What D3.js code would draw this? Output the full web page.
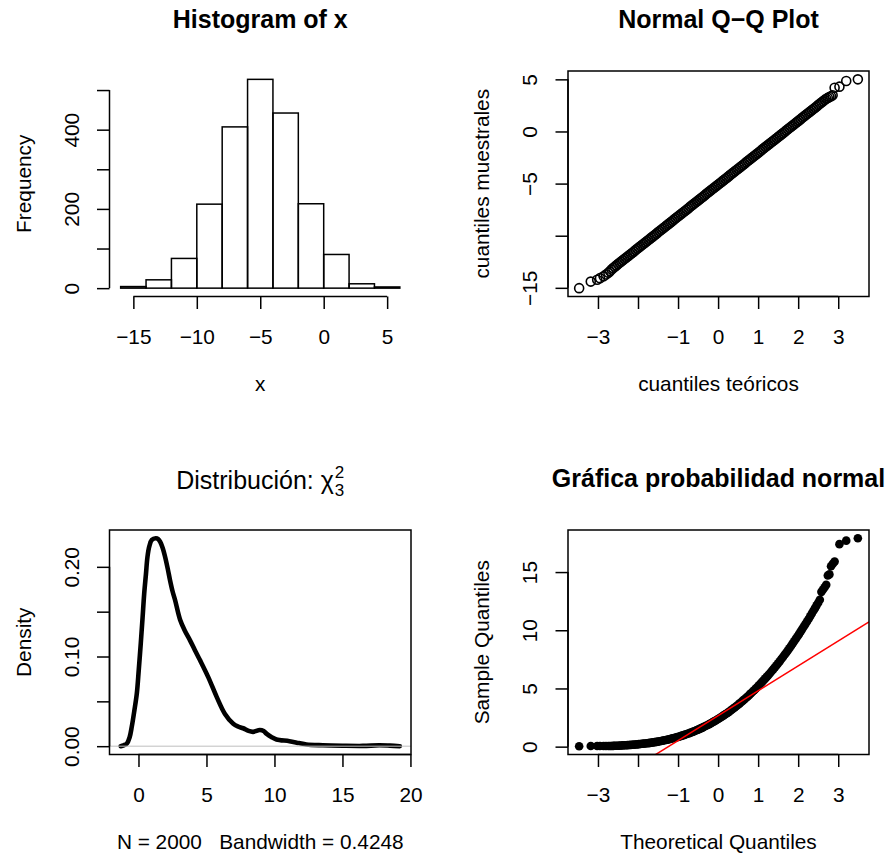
<!DOCTYPE html>
<html>
<head>
<meta charset="utf-8">
<script src="https://cdn.jsdelivr.net/npm/d3@7"></script>
<style>
  body { margin: 0; background: #fff; }
  text { font-family: "Liberation Sans", Arial, Helvetica, sans-serif; }
</style>
</head>
<body>
<div id="chart"></div>
<script>
// ---- data ----
var histBreaks = [-16, -14, -12, -10, -8, -6, -4, -2, 0, 2, 4, 6];
var histCounts = [4, 21, 75, 212, 407, 527, 442, 213, 85, 11, 3];
var histXTicks = [-15, -10, -5, 0, 5];
var histYTicks = [0, 100, 200, 300, 400, 500];
var histYLabels = [0, 200, 400];

// theoretical quantiles (same n = 2000 for both Q-Q plots)
var qqTheo = [-3.47, -3.18, -3.02, -2.95, -2.86, -2.80, -2.74, -2.70, -2.66,
  -2.62,-2.58,-2.54,-2.50,-2.46,-2.42,-2.38,-2.34,-2.30,-2.26,
  -2.22,-2.18,-2.14,-2.10,-2.06,-2.02,-1.98,-1.94,-1.90,-1.86,
  -1.82,-1.78,-1.74,-1.70,-1.66,-1.62,-1.58,-1.54,-1.50,-1.46,
  -1.42,-1.38,-1.34,-1.30,-1.26,-1.22,-1.18,-1.14,-1.10,-1.06,
  -1.02,-0.98,-0.94,-0.90,-0.86,-0.82,-0.78,-0.74,-0.70,-0.66,
  -0.62,-0.58,-0.54,-0.50,-0.46,-0.42,-0.38,-0.34,-0.30,-0.26,
  -0.22,-0.18,-0.14,-0.10,-0.06,-0.02,0.02,0.06,0.10,0.14,
  0.18,0.22,0.26,0.30,0.34,0.38,0.42,0.46,0.50,0.54,
  0.58,0.62,0.66,0.70,0.74,0.78,0.82,0.86,0.90,0.94,
  0.98,1.02,1.06,1.10,1.14,1.18,1.22,1.26,1.30,1.34,
  1.38,1.42,1.46,1.50,1.54,1.58,1.62,1.66,1.70,1.74,
  1.78,1.82,1.86,1.90,1.94,1.98,2.02,2.06,2.10,2.14,
  2.18,2.22,2.26,2.30,2.34,2.38,2.42,2.46,2.50,2.54,
  2.58,2.62,2.66,2.70,
  2.74, 2.78, 2.82, 2.86, 2.91, 3.03, 3.20, 3.49];

// sorted sample, normal data (top right)
var qqNormSample = [-15.03, -14.40, -14.23, -14.07, -13.90, -13.72, -13.55, -13.42, -13.25,
  -13.09,-12.97,-12.85,-12.72,-12.60,-12.48,-12.36,-12.24,-12.12,-11.99,
  -11.87,-11.75,-11.63,-11.51,-11.38,-11.26,-11.14,-11.02,-10.89,-10.77,
  -10.65,-10.53,-10.41,-10.28,-10.16,-10.04,-9.92,-9.80,-9.67,-9.55,
  -9.43,-9.31,-9.19,-9.06,-8.94,-8.82,-8.70,-8.58,-8.45,-8.33,
  -8.21,-8.09,-7.97,-7.84,-7.72,-7.60,-7.48,-7.36,-7.23,-7.11,
  -6.99,-6.87,-6.75,-6.62,-6.50,-6.38,-6.26,-6.14,-6.01,-5.89,
  -5.77,-5.65,-5.53,-5.40,-5.28,-5.16,-5.04,-4.92,-4.79,-4.67,
  -4.55,-4.43,-4.31,-4.18,-4.06,-3.94,-3.82,-3.70,-3.57,-3.45,
  -3.33,-3.21,-3.09,-2.96,-2.84,-2.72,-2.60,-2.48,-2.35,-2.23,
  -2.11,-1.99,-1.87,-1.74,-1.62,-1.50,-1.38,-1.26,-1.13,-1.01,
  -0.89,-0.77,-0.65,-0.52,-0.40,-0.28,-0.16,-0.04,0.09,0.21,
  0.33,0.45,0.57,0.70,0.82,0.94,1.06,1.18,1.31,1.43,
  1.55,1.67,1.79,1.92,2.04,2.16,2.28,2.40,2.53,2.65,
  2.77,2.89,3.01,3.14,
  3.22, 3.30, 3.38, 3.48, 4.20, 4.30, 4.84, 5.00];

// sorted sample, chi-square data (bottom right)
var qqChiSample = [0.04, 0.05, 0.05, 0.05, 0.06, 0.06, 0.06, 0.06, 0.06,
  0.067,0.072,0.078,0.083,0.091,0.099,0.106,0.114,0.122,0.130,
  0.141,0.152,0.164,0.176,0.187,0.199,0.213,0.228,0.243,0.258,
  0.273,0.289,0.305,0.327,0.348,0.369,0.390,0.412,0.433,0.461,
  0.489,0.517,0.546,0.574,0.602,0.636,0.672,0.708,0.745,0.781,
  0.817,0.857,0.902,0.947,0.992,1.037,1.081,1.129,1.184,1.239,
  1.294,1.350,1.405,1.460,1.526,1.593,1.659,1.726,1.792,1.858,
  1.934,2.012,2.091,2.169,2.248,2.327,2.412,2.503,2.595,2.686,
  2.778,2.869,2.964,3.070,3.176,3.282,3.388,3.494,3.600,3.719,
  3.838,3.957,4.077,4.196,4.315,4.446,4.581,4.716,4.852,4.987,
  5.122,5.265,5.415,5.564,5.714,5.864,6.014,6.167,6.333,6.498,
  6.664,6.829,6.995,7.160,7.342,7.525,7.707,7.890,8.072,8.254,
  8.451,8.653,8.854,9.056,9.258,9.459,9.668,9.884,10.10,10.32,
  10.53,10.75,10.97,11.20,11.44,11.67,11.90,12.14,12.37,12.62,
  13.30,13.50,13.70,13.90,
  14.70, 14.80, 15.50, 15.70, 15.90, 17.40, 17.70, 17.90];
var qqChiLine = [2.66, 2.14];   // intercept, slope

var qqXTicks = [-3, -2, -1, 0, 1, 2, 3];
var qqXLabels = [-3, -1, 0, 1, 2, 3];
var qqNormYTicks = [-15, -10, -5, 0, 5];
var qqNormYLabels = [-15, -5, 0, 5];
var qqChiYTicks = [0, 5, 10, 15];

// kernel density of the chi-square sample
var densX = [-1.31, -1.1, -0.85, -0.65, -0.49, -0.30, -0.12, 0.02, 0.17, 0.30, 0.42, 0.55, 0.66, 0.80,
  0.98, 1.27, 1.45, 1.59, 1.78, 1.96, 2.15, 2.32, 2.50, 2.69, 3.06, 3.40, 3.79, 4.15, 4.52, 5.13,
  5.75, 6.36, 6.97, 7.30, 7.70, 8.10, 8.43, 8.92, 9.20, 9.41, 9.80, 10.15, 11.1, 11.8, 12.35,
  13.56, 15.0, 16.5, 17.7, 18.5, 19.22];
var densY = [0.000, 0.001, 0.003, 0.010, 0.022, 0.040, 0.059, 0.085, 0.115, 0.143, 0.170, 0.192, 0.211, 0.223,
  0.230, 0.2318, 0.231, 0.228, 0.221, 0.211, 0.198, 0.185, 0.173, 0.163, 0.141, 0.129, 0.118, 0.107, 0.096, 0.077,
  0.055, 0.036, 0.025, 0.022, 0.020, 0.017, 0.016, 0.018, 0.017, 0.014, 0.010, 0.0075, 0.0056, 0.0035, 0.0019,
  0.001, 0.0005, 0.0003, 0.001, 0.0006, 0.000];
var densXTicks = [0, 5, 10, 15, 20];
var densYTicks = [0, 0.05, 0.10, 0.15, 0.20];
var densYLabels = [0, 0.10, 0.20];

// ---- drawing ----
var W = 890, H = 856;
var AXIS_PX = 20.8, TITLE_PX = 25, LW = 1.5;

var svg = d3.select("#chart").append("svg")
    .attr("width", W)
    .attr("height", H);

svg.append("rect").attr("width", W).attr("height", H).attr("fill", "#fff");

var colX = [[109.5, 411], [568, 869]];
var rowY = [[71, 296.5], [530, 754.5]];

function pad4(ext) {
    var r = ext[1] - ext[0];
    return [ext[0] - 0.04 * r, ext[1] + 0.04 * r];
}
function minus(v) { return String(v).replace("-", "\u2212"); }

function bottomAxis(x, yPix, ticks, labels, fmt) {
    var ax = svg.append("g")
        .attr("transform", "translate(0," + yPix + ")")
        .call(d3.axisBottom(x).tickValues(ticks).tickSize(12.5).tickSizeOuter(0)
            .tickFormat(function(d) { return labels.indexOf(d) >= 0 ? fmt(d) : ""; }));
    ax.attr("font-size", null).attr("font-family", null);
    ax.select(".domain").attr("d", "M" + x(ticks[0]) + ",0H" + x(ticks[ticks.length - 1]));
    ax.selectAll("line,path").attr("stroke", "#000").attr("stroke-width", LW);
    ax.selectAll("text")
        .attr("y", 47).attr("dy", null)
        .attr("fill", "#000")
        .style("font-size", AXIS_PX + "px");
}

function leftAxis(y, xPix, ticks, labels, fmt) {
    var ax = svg.append("g")
        .attr("transform", "translate(" + xPix + ",0)")
        .call(d3.axisLeft(y).tickValues(ticks).tickSize(12.5).tickSizeOuter(0)
            .tickFormat(function(d) { return labels.indexOf(d) >= 0 ? fmt(d) : ""; }));
    ax.attr("font-size", null).attr("font-family", null);
    ax.select(".domain").attr("d", "M0," + y(ticks[0]) + "V" + y(ticks[ticks.length - 1]));
    ax.selectAll("line,path").attr("stroke", "#000").attr("stroke-width", LW);
    ax.selectAll("text")
        .attr("x", null).attr("dy", null)
        .attr("text-anchor", "middle")
        .attr("transform", "translate(-31,0) rotate(-90)")
        .attr("fill", "#000")
        .style("font-size", AXIS_PX + "px");
}

function box(c, r) {
    svg.append("rect")
        .attr("x", colX[c][0]).attr("y", rowY[r][0])
        .attr("width", colX[c][1] - colX[c][0])
        .attr("height", rowY[r][1] - rowY[r][0])
        .attr("fill", "none").attr("stroke", "#000").attr("stroke-width", LW);
}

function clip(id, c, r) {
    svg.append("clipPath").attr("id", id).append("rect")
        .attr("x", colX[c][0]).attr("y", rowY[r][0])
        .attr("width", colX[c][1] - colX[c][0])
        .attr("height", rowY[r][1] - rowY[r][0]);
}

function title(c, r, txt) {
    svg.append("text")
        .attr("x", (colX[c][0] + colX[c][1]) / 2)
        .attr("y", rowY[r][0] - 43)
        .attr("text-anchor", "middle")
        .style("font-size", TITLE_PX + "px")
        .style("font-weight", "bold")
        .text(txt);
}

function xlab(c, r, txt) {
    svg.append("text")
        .attr("x", (colX[c][0] + colX[c][1]) / 2)
        .attr("y", rowY[r][1] + 94.5)
        .attr("text-anchor", "middle")
        .style("font-size", AXIS_PX + "px")
        .style("white-space", "pre")
        .text(txt);
}

function ylab(c, r, txt) {
    var cy = (rowY[r][0] + rowY[r][1]) / 2;
    svg.append("text")
        .attr("transform", "translate(" + (colX[c][0] - 79) + "," + cy + ") rotate(-90)")
        .attr("text-anchor", "middle")
        .style("font-size", AXIS_PX + "px")
        .text(txt);
}

// 1. histogram
var hx = d3.scaleLinear().domain(pad4(d3.extent(histBreaks))).range(colX[0]);
var hy = d3.scaleLinear().domain(pad4([0, d3.max(histCounts)])).range([rowY[0][1], rowY[0][0]]);

svg.append("g").selectAll("rect")
    .data(histCounts)
    .enter()
    .append("rect")
    .attr("x", function(d, i) { return hx(histBreaks[i]); })
    .attr("width", function(d, i) { return hx(histBreaks[i + 1]) - hx(histBreaks[i]); })
    .attr("y", function(d) { return hy(d); })
    .attr("height", function(d) { return hy(0) - hy(d); })
    .attr("fill", "none")
    .attr("stroke", "#000")
    .attr("stroke-width", LW);

bottomAxis(hx, rowY[0][1], histXTicks, histXTicks, minus);
leftAxis(hy, colX[0][0], histYTicks, histYLabels, minus);
title(0, 0, "Histogram of x");
xlab(0, 0, "x");
ylab(0, 0, "Frequency");

// 2. normal Q-Q plot
var nx = d3.scaleLinear().domain(pad4(d3.extent(qqTheo))).range(colX[1]);
var ny = d3.scaleLinear().domain(pad4(d3.extent(qqNormSample))).range([rowY[0][1], rowY[0][0]]);

svg.append("g").selectAll("circle")
    .data(qqTheo)
    .enter()
    .append("circle")
    .attr("cx", function(d) { return nx(d); })
    .attr("cy", function(d, i) { return ny(qqNormSample[i]); })
    .attr("r", 4.5)
    .attr("fill", "none")
    .attr("stroke", "#000")
    .attr("stroke-width", 1.6);

box(1, 0);
bottomAxis(nx, rowY[0][1], qqXTicks, qqXLabels, minus);
leftAxis(ny, colX[1][0], qqNormYTicks, qqNormYLabels, minus);
title(1, 0, "Normal Q\u2212Q Plot");
xlab(1, 0, "cuantiles te\u00f3ricos");
ylab(1, 0, "cuantiles muestrales");

// 3. density
var dx = d3.scaleLinear().domain(pad4(d3.extent(densX))).range(colX[0]);
var dy = d3.scaleLinear().domain(pad4([0, d3.max(densY)])).range([rowY[1][1], rowY[1][0]]);
clip("clipDens", 0, 1);

var densLine = d3.line()
    .x(function(d) { return dx(d); })
    .y(function(d, i) { return dy(densY[i]); })
    .curve(d3.curveCatmullRom);

svg.append("path")
    .attr("d", densLine(densX))
    .attr("clip-path", "url(#clipDens)")
    .attr("fill", "none")
    .attr("stroke", "#000")
    .attr("stroke-width", 4.6)
    .attr("stroke-linejoin", "round")
    .attr("stroke-linecap", "round");

svg.append("line")
    .attr("x1", colX[0][0]).attr("x2", colX[0][1])
    .attr("y1", dy(0)).attr("y2", dy(0))
    .attr("stroke", "#bebebe").attr("stroke-width", 1);

box(0, 1);
bottomAxis(dx, rowY[1][1], densXTicks, densXTicks, minus);
leftAxis(dy, colX[0][0], densYTicks, densYLabels, d3.format(".2f"));
xlab(0, 1, "N = 2000   Bandwidth = 0.4248");
ylab(0, 1, "Density");

// title with chi-square symbol, sub- and superscript
var tcx = (colX[0][0] + colX[0][1]) / 2, tby = rowY[1][0] - 41;
var mainT = svg.append("text")
    .attr("y", tby)
    .style("font-size", TITLE_PX + "px")
    .text("Distribuci\u00f3n: \u03c7");
var supT = svg.append("text").attr("y", tby - 11.5).style("font-size", "17px").text("2");
var subT = svg.append("text").attr("y", tby + 7).style("font-size", "17px").text("3");
var w1 = mainT.node().getComputedTextLength();
var w2 = Math.max(supT.node().getComputedTextLength(), subT.node().getComputedTextLength());
var x0 = tcx - (w1 + 1 + w2) / 2;
mainT.attr("x", x0);
supT.attr("x", x0 + w1 + 1);
subT.attr("x", x0 + w1 + 1);

// 4. chi-square Q-Q plot
var cx = d3.scaleLinear().domain(pad4(d3.extent(qqTheo))).range(colX[1]);
var cy = d3.scaleLinear().domain(pad4(d3.extent(qqChiSample))).range([rowY[1][1], rowY[1][0]]);
clip("clipChi", 1, 1);

svg.append("g").selectAll("circle")
    .data(qqTheo)
    .enter()
    .append("circle")
    .attr("cx", function(d) { return cx(d); })
    .attr("cy", function(d, i) { return cy(qqChiSample[i]); })
    .attr("r", 4.3)
    .attr("fill", "#000");

var xd = cx.domain();
svg.append("line")
    .attr("clip-path", "url(#clipChi)")
    .attr("x1", cx(xd[0])).attr("y1", cy(qqChiLine[0] + qqChiLine[1] * xd[0]))
    .attr("x2", cx(xd[1])).attr("y2", cy(qqChiLine[0] + qqChiLine[1] * xd[1]))
    .attr("stroke", "#ff0000").attr("stroke-width", LW);

box(1, 1);
bottomAxis(cx, rowY[1][1], qqXTicks, qqXLabels, minus);
leftAxis(cy, colX[1][0], qqChiYTicks, qqChiYTicks, minus);
title(1, 1, "Gr\u00e1fica probabilidad normal");
xlab(1, 1, "Theoretical Quantiles");
ylab(1, 1, "Sample Quantiles");
</script>
</body>
</html>
